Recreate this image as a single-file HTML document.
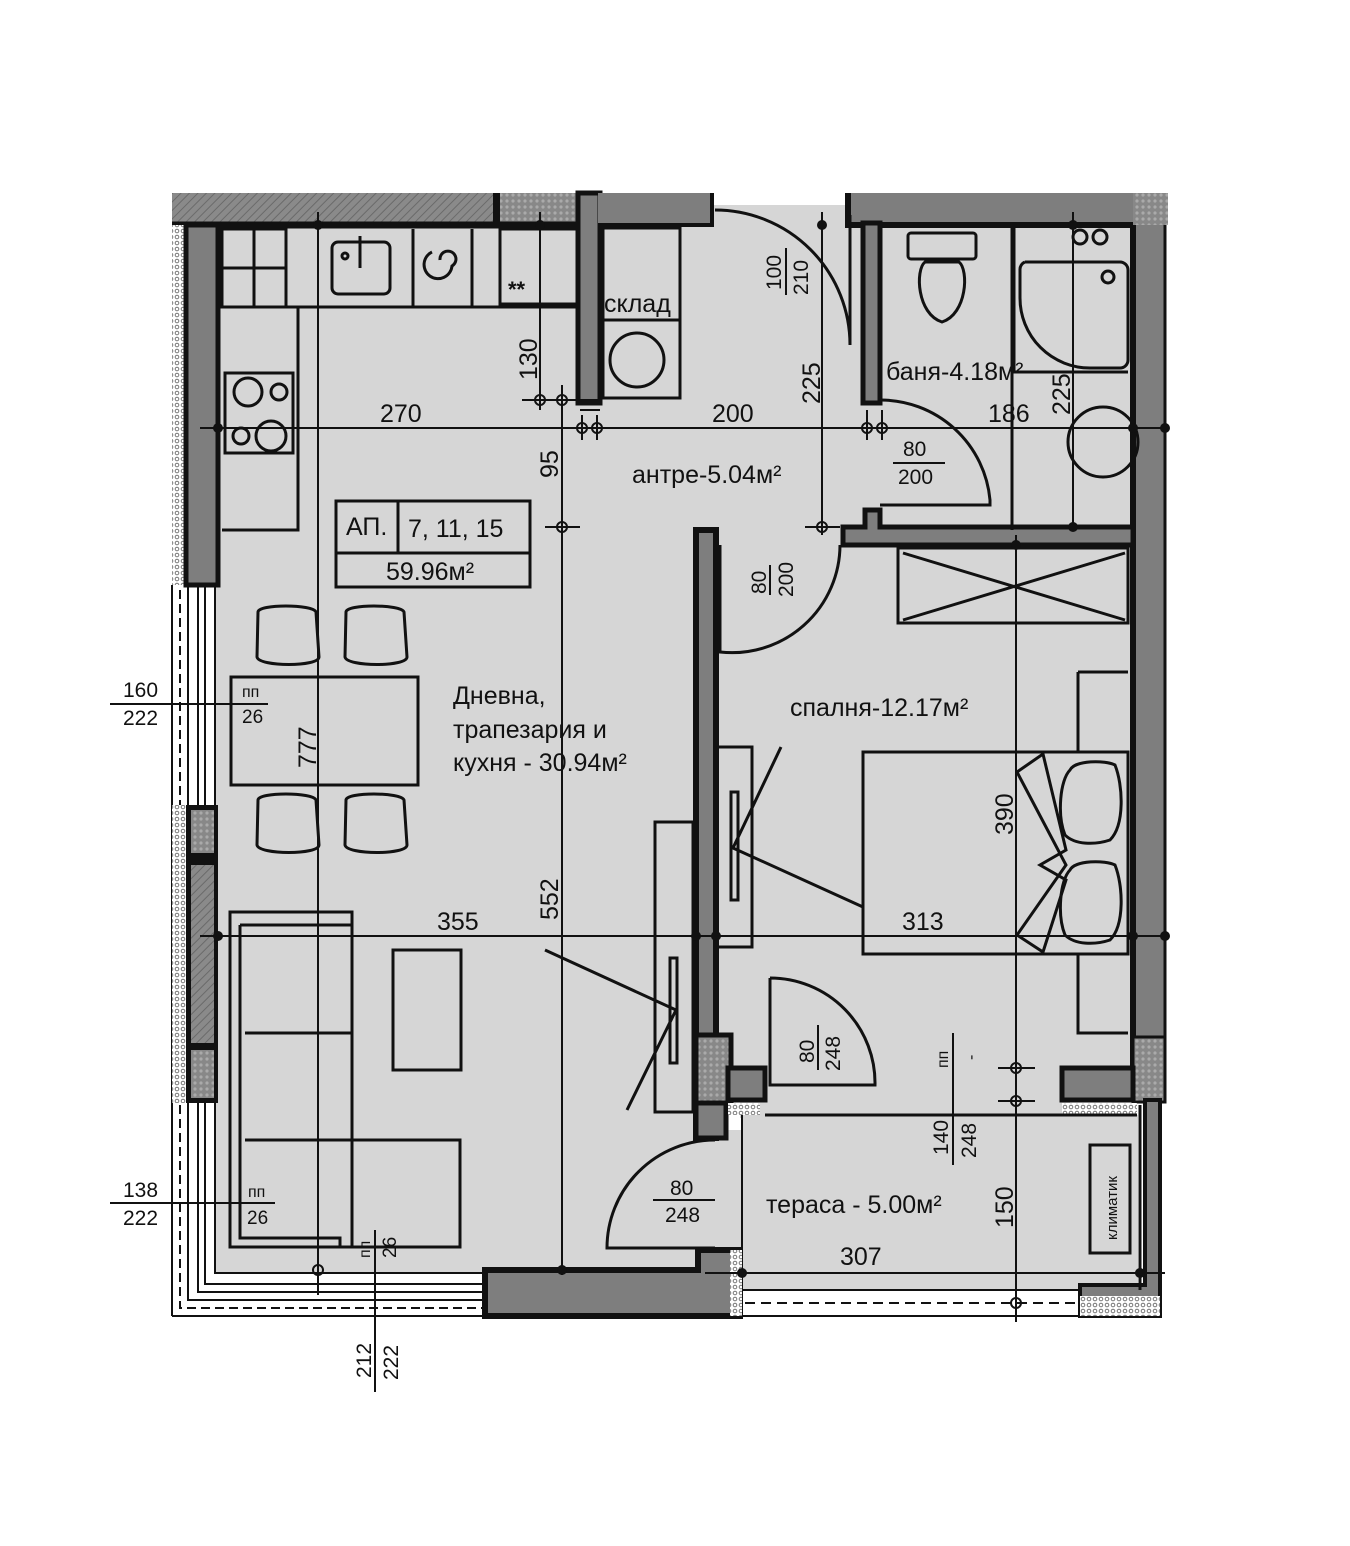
<!DOCTYPE html>
<html><head><meta charset="utf-8"><style>
html,body{margin:0;padding:0;background:#fff}
svg{display:block}
text{font-family:"Liberation Sans","DejaVu Sans",sans-serif;fill:#111}
</style></head><body>
<svg width="1350" height="1546" viewBox="0 0 1350 1546" xmlns="http://www.w3.org/2000/svg">
<defs>
<pattern id="hatch" width="6" height="6" patternUnits="userSpaceOnUse" patternTransform="rotate(45)">
<rect width="6" height="6" fill="#8a8a8a"/><line x1="0" y1="0" x2="0" y2="6" stroke="#6a6a6a" stroke-width="2"/></pattern>
<pattern id="dots" width="6" height="6" patternUnits="userSpaceOnUse">
<rect width="6" height="6" fill="#fff"/><circle cx="3" cy="3" r="1.8" fill="none" stroke="#777" stroke-width="1"/></pattern>
<pattern id="dotsd" width="6" height="6" patternUnits="userSpaceOnUse">
<rect width="6" height="6" fill="#888"/><circle cx="3" cy="3" r="1.6" fill="#aaa"/></pattern>
</defs>
<g fill="#d6d6d6">
<rect x="215" y="225" width="480" height="1048"/>
<rect x="598" y="225" width="284" height="305"/>
<rect x="715" y="525" width="130" height="25"/>
<rect x="878" y="225" width="258" height="305"/>
<rect x="715" y="545" width="420" height="525"/>
<rect x="740" y="1068" width="330" height="50"/>
<rect x="742" y="1115" width="396" height="175"/>
<rect x="693" y="1130" width="52" height="125"/>
<rect x="712" y="205" width="140" height="25"/>
</g>
<rect x="742" y="1290" width="338" height="25" fill="#fff"/>
<line x1="745" y1="1303" x2="1080" y2="1303" stroke="#111" stroke-width="2" stroke-dasharray="10,6"/>
<rect x="172" y="193" width="406" height="32" fill="url(#hatch)"/>
<rect x="493" y="193" width="85" height="32" fill="url(#dotsd)"/>
<rect x="493" y="193" width="7" height="32" fill="#111"/>
<line x1="172" y1="225" x2="582" y2="225" stroke="#111" stroke-width="7"/>
<rect x="578" y="193" width="22" height="210" fill="#7e7e7e" stroke="#111" stroke-width="5"/>
<rect x="598" y="193" width="114" height="32" fill="#7e7e7e"/>
<rect x="848" y="193" width="285" height="32" fill="#7e7e7e"/>
<path d="M848 193 V225 H1133" fill="none" stroke="#111" stroke-width="6"/>
<path d="M712 193 V225 H598" fill="none" stroke="#111" stroke-width="4"/>
<rect x="863" y="223" width="17" height="180" fill="#7e7e7e" stroke="#111" stroke-width="5"/>
<rect x="1133" y="193" width="35" height="32" fill="url(#dotsd)"/>
<rect x="1133" y="225" width="32" height="812" fill="#7e7e7e"/>
<line x1="1133" y1="225" x2="1133" y2="1100" stroke="#111" stroke-width="6"/>
<line x1="1165" y1="225" x2="1165" y2="1040" stroke="#111" stroke-width="3"/>
<rect x="1133" y="1037" width="32" height="65" fill="url(#dotsd)" stroke="#111" stroke-width="3"/>
<path d="M843 545 V527 H865 V510 H880 V527 H1133 V545 Z" fill="#7e7e7e" stroke="#111" stroke-width="5"/>
<rect x="696" y="530" width="20" height="608" fill="#7e7e7e" stroke="#111" stroke-width="6"/>
<rect x="696" y="1035" width="35" height="70" fill="url(#dotsd)" stroke="#111" stroke-width="5"/>
<rect x="696" y="1103" width="30" height="35" fill="#7e7e7e" stroke="#111" stroke-width="5"/>
<rect x="728" y="1068" width="37" height="32" fill="#7e7e7e" stroke="#111" stroke-width="5"/>
<rect x="1062" y="1068" width="71" height="32" fill="#7e7e7e" stroke="#111" stroke-width="5"/>
<rect x="728" y="1103" width="32" height="12" fill="url(#dots)"/>
<rect x="1062" y="1103" width="75" height="12" fill="url(#dots)"/>
<rect x="172" y="225" width="14" height="360" fill="url(#dots)"/>
<rect x="186" y="225" width="32" height="360" fill="#7e7e7e" stroke="#111" stroke-width="5"/>
<g stroke="#111" stroke-width="2" fill="none">
<line x1="180" y1="590" x2="180" y2="805" stroke-dasharray="9,5"/>
<line x1="188" y1="585" x2="188" y2="805"/><line x1="198" y1="585" x2="198" y2="805"/>
<line x1="205" y1="585" x2="205" y2="805"/><line x1="215" y1="585" x2="215" y2="805"/>
<line x1="172" y1="585" x2="172" y2="1316"/>
<path d="M180 1105 V1308 H485" stroke-dasharray="9,5"/>
<path d="M188 1103 V1300 H485"/><path d="M198 1103 V1292 H485"/><path d="M205 1103 V1284 H485"/>
<path d="M215 1103 V1273 H485"/>
<line x1="172" y1="1316" x2="485" y2="1316"/>
<line x1="742" y1="1316" x2="1080" y2="1316"/>
<line x1="742" y1="1290" x2="1080" y2="1290"/>
<line x1="742" y1="1115" x2="742" y2="1290"/>
</g>
<rect x="172" y="805" width="14" height="298" fill="url(#dots)"/>
<rect x="186" y="805" width="32" height="298" fill="#111"/>
<rect x="191" y="810" width="23" height="43" fill="url(#dotsd)"/>
<rect x="191" y="865" width="23" height="178" fill="url(#hatch)"/>
<rect x="191" y="1050" width="23" height="48" fill="url(#dotsd)"/>
<path d="M485 1316 V1270 H698 V1250 H740 V1316 Z" fill="#7e7e7e" stroke="#111" stroke-width="6"/>
<rect x="730" y="1250" width="12" height="66" fill="url(#dots)"/>
<path d="M1080 1316 V1285 H1145 V1100 H1160 V1316 Z" fill="#7e7e7e" stroke="#111" stroke-width="4"/>
<rect x="1080" y="1296" width="80" height="20" fill="url(#dots)"/>
<line x1="1140" y1="1105" x2="1140" y2="1290" stroke="#111" stroke-width="3"/>
<g stroke="#111" stroke-width="3" fill="none">
<rect x="222" y="229" width="64" height="78"/><line x1="222" y1="268" x2="286" y2="268"/><line x1="254" y1="229" x2="254" y2="307"/>
<path d="M222 307 H578 M298 307 V530 H222"/>
<line x1="413" y1="229" x2="413" y2="307"/><line x1="472" y1="229" x2="472" y2="307"/>
<rect x="500" y="229" width="78" height="75"/>
<rect x="332" y="242" width="58" height="52" rx="6"/>
<line x1="360" y1="236" x2="360" y2="268"/>
<circle cx="345" cy="256" r="3"/>
<path d="M440 260 a8 8 0 1 1 12 6 a14 14 0 1 1 -20 -14"/>
<rect x="225" y="373" width="68" height="80"/>
<circle cx="248" cy="392" r="14"/><circle cx="279" cy="392" r="8"/><circle cx="241" cy="436" r="8"/><circle cx="271" cy="436" r="15"/>
<rect x="603" y="228" width="77" height="170"/><line x1="603" y1="320" x2="680" y2="320"/><circle cx="637" cy="360" r="27"/>
<path d="M850 215 V345 A135 135 0 0 0 715 210"/>
<path d="M880 400 A110 110 0 0 1 990 500 V505 H880"/>
<path d="M720 545 V652 A108 108 0 0 0 840 545"/>
<path d="M770 978 V1085 H875 A105 105 0 0 0 770 978"/>
<path d="M715 1140 A108 108 0 0 0 607 1248 H715"/>
<rect x="908" y="233" width="68" height="26" rx="3"/>
<path d="M925 262 c-10 8 -8 52 17 60 c25 -8 27 -52 17 -60 Z"/>
<path d="M1014 228 V372 H1128 M1025 262 H1120 a8 8 0 0 1 8 8 V360 a8 8 0 0 1 -8 8 H1090 a70 70 0 0 1 -70 -70 V270 a8 8 0 0 1 5 -8"/>
<line x1="1012" y1="228" x2="1012" y2="530"/>
<circle cx="1108" cy="277" r="6"/>
<circle cx="1080" cy="237" r="7"/><circle cx="1100" cy="237" r="7"/>
<circle cx="1103" cy="442" r="35"/>
<rect x="898" y="548" width="230" height="75"/><line x1="903" y1="553" x2="1125" y2="620"/><line x1="1125" y1="553" x2="903" y2="620"/>
<path d="M1078 672 H1128 M1078 672 V752 M1078 955 V1033 H1128"/>
<rect x="863" y="752" width="265" height="202"/>
<path d="M1017 772 L1043 754 L1066 850 L1040 865 L1066 880 L1043 952 L1017 935 L1066 865 Z"/>
<path d="M1070 770 c5 -10 35 -10 45 -5 c8 20 10 60 -5 75 c-15 5 -35 5 -45 -5 c-8 -20 -5 -55 5 -65 Z"/>
<path d="M1070 870 c5 -10 35 -10 45 -5 c8 20 10 60 -5 75 c-15 5 -35 5 -45 -5 c-8 -20 -5 -55 5 -65 Z"/>
<rect x="716" y="747" width="36" height="200"/><rect x="731" y="792" width="7" height="108"/>
<path d="M781 747 L733 848 L863 907"/>
<rect x="655" y="822" width="38" height="290"/><rect x="670" y="958" width="7" height="105"/>
<path d="M545 950 L676 1010 L627 1110"/>
<rect x="336" y="501" width="194" height="86"/><line x1="336" y1="553" x2="530" y2="553"/><line x1="398" y1="501" x2="398" y2="553"/>
<rect x="231" y="677" width="187" height="108"/>
<path d="M258 612 c0-8 55-8 58 0 l3 45 c0 10 -60 10 -62 0 Z"/><path d="M346 612 c0-8 55-8 58 0 l3 45 c0 10 -60 10 -62 0 Z"/>
<path d="M258 800 c0-8 55-8 58 0 l3 45 c0 10 -60 10 -62 0 Z"/><path d="M346 800 c0-8 55-8 58 0 l3 45 c0 10 -60 10 -62 0 Z"/>
<rect x="230" y="912" width="122" height="335"/>
<path d="M240 925 H352 M240 925 V1238 H340 V1247 M245 1033 H352 M245 1140 H460 V1247 H352 V1140"/>
<rect x="393" y="950" width="68" height="120"/>
<rect x="1090" y="1145" width="40" height="108"/>
<line x1="765" y1="1115" x2="1137" y2="1115"/>
</g>
<g stroke="#111" stroke-width="2">
<line x1="200" y1="428" x2="1168" y2="428"/>
<line x1="200" y1="936" x2="1168" y2="936"/>
<line x1="705" y1="1273" x2="1165" y2="1273"/>
<line x1="318" y1="212" x2="318" y2="1295"/>
<line x1="562" y1="385" x2="562" y2="1275"/>
<line x1="540" y1="212" x2="540" y2="410"/>
<line x1="822" y1="212" x2="822" y2="535"/>
<line x1="1073" y1="212" x2="1073" y2="530"/>
<line x1="1016" y1="535" x2="1016" y2="1322"/>
<line x1="522" y1="400" x2="600" y2="400"/><line x1="580" y1="410" x2="600" y2="410"/>
<line x1="582" y1="415" x2="582" y2="440"/><line x1="597" y1="415" x2="597" y2="440"/>
<line x1="867" y1="410" x2="867" y2="440"/><line x1="882" y1="410" x2="882" y2="440"/>
<line x1="545" y1="527" x2="580" y2="527"/><line x1="805" y1="527" x2="840" y2="527"/>
<line x1="998" y1="1068" x2="1035" y2="1068"/><line x1="998" y1="1101" x2="1035" y2="1101"/>
<line x1="110" y1="704" x2="268" y2="704"/><line x1="110" y1="1203" x2="275" y2="1203"/>
<line x1="375" y1="1230" x2="375" y2="1392"/><line x1="953" y1="1033" x2="953" y2="1165"/>
<line x1="786" y1="248" x2="786" y2="295"/>
<line x1="770" y1="565" x2="770" y2="595"/>
<line x1="818" y1="1025" x2="818" y2="1070"/>
<line x1="653" y1="1200" x2="715" y2="1200"/>
<line x1="893" y1="463" x2="945" y2="463"/>
</g>
<g fill="none" stroke="#111" stroke-width="2">
<circle cx="540" cy="400" r="5"/><circle cx="562" cy="400" r="5"/><circle cx="582" cy="428" r="5"/><circle cx="597" cy="428" r="5"/>
<circle cx="867" cy="428" r="5"/><circle cx="882" cy="428" r="5"/><circle cx="562" cy="527" r="5"/><circle cx="822" cy="527" r="5"/>
<circle cx="1016" cy="1068" r="5"/><circle cx="1016" cy="1101" r="5"/><circle cx="1016" cy="1303" r="5"/><circle cx="318" cy="1270" r="5"/>
</g>
<g fill="#111">
<circle cx="218" cy="428" r="5"/><circle cx="318" cy="225" r="5"/><circle cx="540" cy="225" r="5"/><circle cx="822" cy="225" r="5"/><circle cx="1073" cy="225" r="5"/>
<circle cx="1133" cy="428" r="5"/><circle cx="1165" cy="428" r="5"/><circle cx="1073" cy="527" r="5"/><circle cx="1016" cy="545" r="5"/>
<circle cx="218" cy="936" r="5"/><circle cx="696" cy="936" r="5"/><circle cx="716" cy="936" r="5"/><circle cx="1133" cy="936" r="5"/><circle cx="1165" cy="936" r="5"/>
<circle cx="562" cy="1270" r="5"/><circle cx="742" cy="1273" r="5"/><circle cx="1140" cy="1273" r="5"/>
</g>
<g font-size="25">
<text x="380" y="422">270</text><text x="712" y="422">200</text><text x="988" y="422">186</text>
<text x="437" y="930">355</text><text x="902" y="930">313</text><text x="840" y="1265">307</text>
<text x="632" y="483">антре-5.04м²</text>
<text x="886" y="380">баня-4.18м²</text>
<text x="604" y="312">склад</text>
<text x="790" y="716">спалня-12.17м²</text>
<text x="453" y="704">Дневна,</text>
<text x="453" y="738">трапезария и</text>
<text x="453" y="771">кухня - 30.94м²</text>
<text x="766" y="1213">тераса - 5.00м²</text>
<text x="346" y="535">АП.</text><text x="408" y="537">7, 11, 15</text><text x="386" y="580">59.96м²</text>
<text x="123" y="697" font-size="21">160</text><text x="123" y="725" font-size="21">222</text>
<text x="123" y="1197" font-size="21">138</text><text x="123" y="1225" font-size="21">222</text>
<text x="670" y="1195" font-size="21">80</text><text x="665" y="1222" font-size="21">248</text>
<text x="903" y="456" font-size="21">80</text><text x="898" y="484" font-size="21">200</text>
<text x="242" y="697" font-size="16">пп</text><text x="242" y="723" font-size="19">26</text>
<text x="248" y="1197" font-size="16">пп</text><text x="247" y="1224" font-size="19">26</text>
</g>
<g font-size="25">
<text transform="translate(537,380) rotate(-90)">130</text>
<text transform="translate(558,478) rotate(-90)">95</text>
<text transform="translate(558,920) rotate(-90)">552</text>
<text transform="translate(316,768) rotate(-90)">777</text>
<text transform="translate(820,404) rotate(-90)">225</text>
<text transform="translate(1070,415) rotate(-90)">225</text>
<text transform="translate(1013,835) rotate(-90)">390</text>
<text transform="translate(1013,1228) rotate(-90)">150</text>
</g>
<g font-size="21">
<text transform="translate(781,290) rotate(-90)">100</text><text transform="translate(808,295) rotate(-90)">210</text>
<text transform="translate(766,594) rotate(-90)">80</text><text transform="translate(793,597) rotate(-90)">200</text>
<text transform="translate(814,1063) rotate(-90)">80</text><text transform="translate(840,1071) rotate(-90)">248</text>
<text transform="translate(948,1155) rotate(-90)">140</text><text transform="translate(976,1158) rotate(-90)">248</text>
<text transform="translate(371,1378) rotate(-90)">212</text><text transform="translate(398,1380) rotate(-90)">222</text>
<text transform="translate(948,1068) rotate(-90)" font-size="16">пп</text>
<text transform="translate(976,1060) rotate(-90)" font-size="16">-</text>
<text transform="translate(370,1258) rotate(-90)" font-size="16">пп</text>
<text transform="translate(396,1258) rotate(-90)" font-size="19">26</text>
<text transform="translate(1117,1240) rotate(-90)" font-size="15">климатик</text>
</g>
<g font-size="22" font-weight="bold"><text x="508" y="297">**</text></g>
</svg>
</body></html>
